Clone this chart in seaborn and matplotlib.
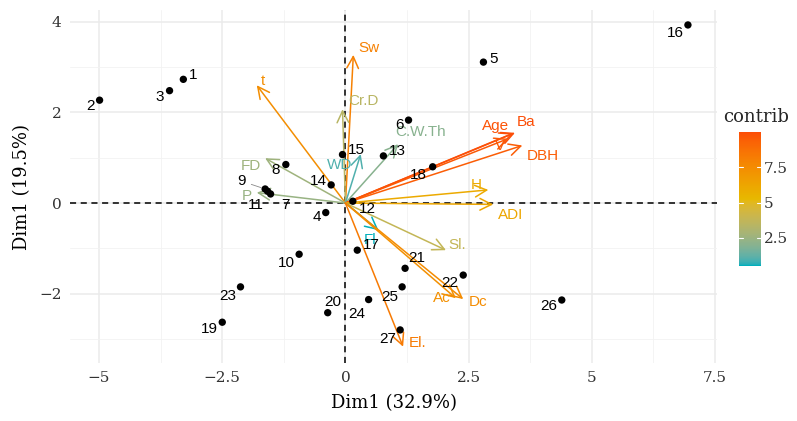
import numpy as np
import pandas as pd
import seaborn as sns
import matplotlib.pyplot as plt
from matplotlib.colors import ListedColormap, Normalize, to_rgb
from matplotlib.cm import ScalarMappable

# individuals (PCA scores)
ind_labels = [str(i) for i in range(1, 28)]
ind_x = [-3.29, -4.99, -3.57, -0.40, 2.80, 1.28, -1.52, -1.21, -1.63, -0.94,
         -1.58, 0.15, 0.77, -0.29, -0.06, 6.95, 0.24, 1.77, -2.50, -0.36,
         1.21, 2.39, -2.13, 0.47, 1.15, 4.39, 1.11]
ind_y = [2.73, 2.27, 2.48, -0.21, 3.11, 1.83, 0.20, 0.85, 0.31, -1.13,
         0.26, 0.04, 1.04, 0.40, 1.07, 3.93, -1.04, 0.80, -2.63, -2.42,
         -1.44, -1.59, -1.85, -2.13, -1.85, -2.14, -2.80]

# variables (arrows)
var_names = ['Sw', 't', 'Cr.D', 'FD', 'P', 'WD', 'C.W.Th', 'Age', 'Ba', 'V',
             'DBH', 'H', 'ADI', 'Sl.', 'Fl', 'Ac', 'Dc', 'El.']
var_x = [0.16, -1.80, -0.06, -1.63, -1.80, 0.31, 1.07, 3.40, 3.44, 3.30,
         3.59, 2.90, 3.00, 2.04, 0.67, 2.24, 2.39, 1.17]
var_y = [3.27, 2.60, 2.07, 0.99, 0.23, 1.08, 1.30, 1.54, 1.55, 1.42,
         1.27, 0.29, -0.03, -1.04, -0.60, -2.10, -2.12, -3.17]
var_contrib = [8.0, 7.4, 3.4, 2.6, 2.4, 1.0, 2.0, 9.8, 10.0, 9.6,
               9.5, 6.0, 6.2, 3.8, 0.5, 7.3, 7.5, 8.3]

# label offsets in pixels (dx, dy up)
ind_off = [(10, 4), (-9, -6), (-10, -6), (-9, -4), (10, 3), (-9, -5), (15, -11),
           (-10, -5), (-24, 8), (-13, -9), (-12, -14), (15, -8), (14, 5), (-13, 4),
           (14, 5), (-13, -8), (14, 5), (-14, -8), (-13, -7), (5, 11), (12, 10),
           (-13, -8), (-13, -9), (-12, -14), (-12, -10), (-13, -6), (-12, -9)]
var_off = [(16, 7), (6, 4), (21, 8), (-14, -8), (-10, -3), (-21, -11), (22, 12),
           (-17, 7), (11, 11), (-8, -7), (20, -11), (-12, 5), (17, -11), (11, 5),
           (-8, -10), (-14, 0), (15, -3), (14, 4)]

grad_cols = ['#00AFBB', '#E7B800', '#FC4E07']


# gradient interpolated in Lab space, like ggplot's gradientn
def rgb2lab(c):
    c = np.array(c)
    c = np.where(c > 0.04045, ((c + 0.055) / 1.055) ** 2.4, c / 12.92)
    m = np.array([[0.4124, 0.3576, 0.1805], [0.2126, 0.7152, 0.0722], [0.0193, 0.1192, 0.9505]])
    xyz = m @ c / np.array([0.95047, 1.0, 1.08883])
    f = np.where(xyz > 0.008856, np.cbrt(xyz), 7.787 * xyz + 16 / 116)
    return np.array([116 * f[1] - 16, 500 * (f[0] - f[1]), 200 * (f[1] - f[2])])


def lab2rgb(lab):
    fy = (lab[0] + 16) / 116
    f = np.array([fy + lab[1] / 500, fy, fy - lab[2] / 200])
    xyz = np.where(f ** 3 > 0.008856, f ** 3, (f - 16 / 116) / 7.787) * np.array([0.95047, 1.0, 1.08883])
    m = np.array([[3.2406, -1.5372, -0.4986], [-0.9689, 1.8758, 0.0415], [0.0557, -0.2040, 1.0570]])
    c = m @ xyz
    c = np.where(c > 0.0031308, 1.055 * np.clip(c, 0, None) ** (1 / 2.4) - 0.055, 12.92 * c)
    return np.clip(c, 0, 1)


labs = [rgb2lab(to_rgb(c)) for c in grad_cols]
steps = []
for t in np.linspace(0, 1, 256):
    seg = min(int(t * 2), 1)
    u = t * 2 - seg
    steps.append(lab2rgb(labs[seg] * (1 - u) + labs[seg + 1] * u))
cmap = ListedColormap(steps)
norm = Normalize(vmin=min(var_contrib), vmax=max(var_contrib))

ind = pd.DataFrame({'x': ind_x, 'y': ind_y, 'label': ind_labels})

sns.set_theme(style='white')
plt.rcParams['font.family'] = ['DejaVu Serif']

fig = plt.figure(figsize=(7.97, 4.21), dpi=100)
ax = fig.add_axes([70/797, 1 - 363/421, 647/797, 353/421])

ax.set_xlim(-5.59, 7.54)
ax.set_ylim(-3.53, 4.26)
ax.set_xticks([-5, -2.5, 0, 2.5, 5, 7.5])
ax.set_xticklabels(['\u22125', '\u22122.5', '0', '2.5', '5', '7.5'])
ax.set_yticks([-2, 0, 2, 4])
ax.set_yticklabels(['\u22122', '0', '2', '4'])
ax.set_xticks([-3.75, -1.25, 1.25, 3.75, 6.25], minor=True)
ax.set_yticks([-3, -1, 1, 3], minor=True)
ax.grid(which='major', color='#EBEBEB', lw=1.1)
ax.grid(which='minor', color='#F2F2F2', lw=0.6)
ax.set_axisbelow(True)
for s in ax.spines.values():
    s.set_visible(False)
ax.tick_params(which='major', length=3, width=0.8, color='#333333',
               labelsize=11, labelcolor='#333333', pad=3)
ax.tick_params(which='minor', length=0)

ax.axhline(0, color='black', ls=(0, (4, 3)), lw=1.1, zorder=1)
ax.axvline(0, color='black', ls=(0, (4, 3)), lw=1.1, zorder=1)

sns.scatterplot(data=ind, x='x', y='y', color='black', s=28, edgecolor='none',
                ax=ax, zorder=3, legend=False)
for i, lab in enumerate(ind_labels):
    dx, dy = ind_off[i]
    props = None
    if lab == '9':
        props = dict(arrowstyle='-', color='#888888', lw=0.6, shrinkA=2, shrinkB=3)
    ax.annotate(lab, xy=(ind_x[i], ind_y[i]), xytext=(dx, dy),
                textcoords='offset pixels', ha='center', va='center',
                fontsize=11, family='Liberation Sans', color='black',
                arrowprops=props, zorder=4)

for i, name in enumerate(var_names):
    c = cmap(norm(var_contrib[i]))
    ax.annotate('', xy=(var_x[i], var_y[i]), xytext=(0, 0),
                arrowprops=dict(arrowstyle='->,head_length=0.6,head_width=0.3',
                                color=c, lw=1.1, shrinkA=0, shrinkB=0,
                                mutation_scale=14), zorder=2)
    dx, dy = var_off[i]
    ax.annotate(name, xy=(var_x[i], var_y[i]), xytext=(dx, dy),
                textcoords='offset pixels', ha='center', va='center',
                fontsize=11, family='Liberation Sans', color=c, zorder=2)

ax.set_xlabel('Dim1 (32.9%)', fontsize=13, color='black', labelpad=6)
ax.set_ylabel('Dim1 (19.5%)', fontsize=13, color='black', labelpad=6)

cax = fig.add_axes([739/797, 1 - 266/421, 22/797, 134/421])
sm = ScalarMappable(norm=norm, cmap=cmap)
cb = fig.colorbar(sm, cax=cax)
cb.outline.set_visible(False)
cb.set_ticks([2.5, 5, 7.5])
cb.set_ticklabels(['2.5', '5', '7.5'])
cax.tick_params(length=0, labelsize=11, labelcolor='#333333', pad=2)
for v in [2.5, 5, 7.5]:
    cax.axhline(v, xmin=0, xmax=0.2, color='white', lw=0.8)
    cax.axhline(v, xmin=0.8, xmax=1, color='white', lw=0.8)
fig.text(723/797, 1 - 117/421, 'contrib', fontsize=13, va='center', ha='left')

fig.savefig('out.png', dpi=100)
